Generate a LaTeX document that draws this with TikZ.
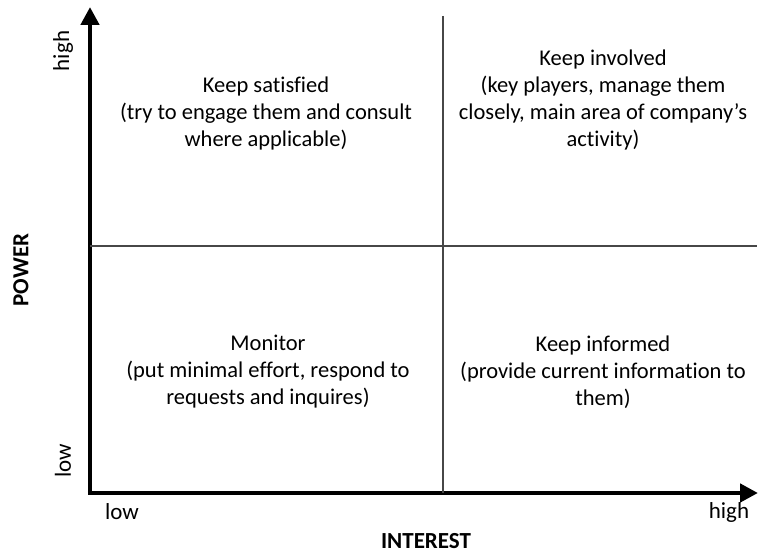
\documentclass[tikz,border=0pt]{standalone}
\usepackage{fontspec}
\setmainfont{Carlito}[Ligatures=NoCommon]
\usetikzlibrary{arrows.meta}
\begin{document}
\begin{tikzpicture}[x=1pt,y=-1pt,
  quad/.style={align=center,font=\fontsize{22.5}{27}\selectfont,inner sep=0pt},
  axislabel/.style={font=\fontsize{23}{26}\selectfont,inner sep=0pt},
  axistitle/.style={font=\fontsize{23}{26}\selectfont\bfseries,inner sep=0pt},
  axis/.style={line width=4.5pt,-{Triangle[length=18pt,width=18pt]}},
  divider/.style={line width=1.8pt,draw=black!72}]
\useasboundingbox (0,0) rectangle (758,553);
% axes
\coordinate (origin) at (90,493);
\coordinate (ytip) at (90,7);
\coordinate (xtip) at (758,493);
\draw[axis] ([yshift=2.25pt]origin) -- (ytip);
\draw[axis] ([xshift=-2.25pt]origin) -- (xtip);
% quadrant dividers
\coordinate (vtop) at (443,16);
\coordinate (vbot) at (443,493);
\coordinate (hleft) at (90,246);
\coordinate (hright) at (757,246);
\draw[divider] (vtop) -- (vbot);
\draw[divider] (hleft) -- (hright);
% quadrant texts
\node[quad] (satisfied) at (266,114) {Keep satisfied\\(try to engage them and consult\\where applicable)};
\node[quad] (involved) at (603,100) {Keep involved\\(key players, manage them\\closely, main area of company’s\\activity)};
\node[quad] (monitor) at (268,372) {Monitor\\(put minimal effort, respond to\\requests and inquires)};
\node[quad] (informed) at (603,372) {Keep informed\\(provide current information to\\them)};
% axis labels
\node[axislabel,rotate=90] (phigh) at (63,51) {high};
\node[axislabel,rotate=90] (plow) at (63,461) {low};
\node[axistitle,rotate=90] (power) at (21,270) {POWER};
\node[axislabel] (ilow) at (122,512) {low};
\node[axislabel] (ihigh) at (729,512) {high};
\node[axistitle] (interest) at (426,541) {INTEREST};
\end{tikzpicture}
\end{document}
